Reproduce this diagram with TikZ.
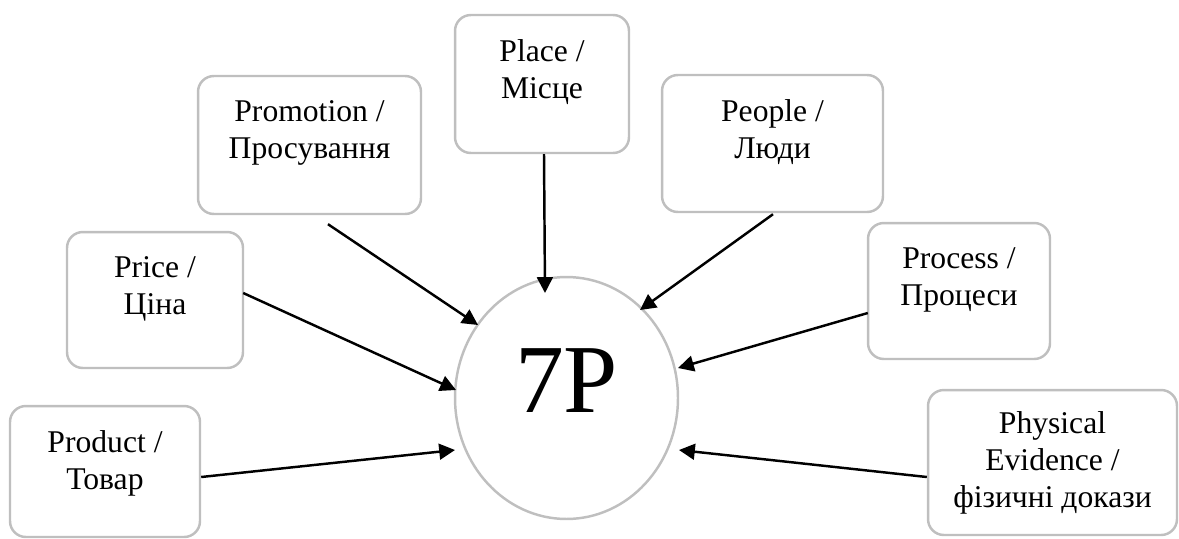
\documentclass[tikz,border=0pt]{standalone}
\usepackage{fontspec}
\setmainfont{Liberation Serif}
\newfontfamily\boxfont{Liberation Serif}
\usetikzlibrary{shapes.geometric,arrows.meta}
\definecolor{boxgray}{HTML}{BFBFBF}
\tikzset{
  box/.style={draw=boxgray, line width=1.4pt, rounded corners=9pt, inner sep=0pt, fill=white},
  lbl/.style={align=center, inner sep=0pt, font=\boxfont\fontsize{18}{21}\selectfont, anchor=north},
  hub/.style={ellipse, draw=boxgray, line width=1.4pt, inner sep=0pt, minimum width=4.46cm, minimum height=4.84cm},
  arr/.style={line width=1.4pt, -{Triangle[length=9pt,width=9pt]}}
}
\begin{document}
\begin{tikzpicture}[x=0.02cm, y=-0.02cm]
\useasboundingbox (0,0) rectangle (1179,538);
% hub
\node[hub] (hub) at (566.5,398) {};
\node[inner sep=0pt, anchor=base, font=\boxfont\fontsize{55.5}{60}\selectfont] (hubT) at (566.5,412) {7P};
% boxes
\node[box, minimum width=3.80cm, minimum height=2.62cm] (product) at (105,471.5) {};
\node[box, minimum width=3.52cm, minimum height=2.72cm] (price) at (155,300) {};
\node[box, minimum width=4.46cm, minimum height=2.76cm] (promotion) at (309.5,145) {};
\node[box, minimum width=3.48cm, minimum height=2.76cm] (place) at (542,84) {};
\node[box, minimum width=4.42cm, minimum height=2.74cm] (people) at (772.5,143.5) {};
\node[box, minimum width=3.64cm, minimum height=2.72cm] (process) at (959,291) {};
\node[box, minimum width=4.98cm, minimum height=2.90cm] (physical) at (1052.5,462.5) {};
% texts
\node[lbl] (productT) at ([yshift=-14.5pt]product.north) {Product /\\Товар};
\node[lbl] (priceT) at ([yshift=-14.5pt]price.north) {Price /\\Ціна};
\node[lbl] (promotionT) at ([yshift=-14.5pt]promotion.north) {Promotion /\\Просування};
\node[lbl] (placeT) at ([yshift=-14.5pt]place.north) {Place /\\Місце};
\node[lbl] (peopleT) at ([yshift=-14.5pt]people.north) {People /\\Люди};
\node[lbl] (processT) at ([yshift=-14.5pt]process.north) {Process /\\Процеси};
\node[lbl] (physicalT) at ([yshift=-13pt]physical.north) {Physical\\Evidence /\\фізичні докази};
% tips near hub
\coordinate (tPlace) at ([shift={(-21.5,-105)}]hub.center);
\coordinate (tPeople) at ([shift={(73.5,-88)}]hub.center);
\coordinate (tPromotion) at ([shift={(-88.5,-73)}]hub.center);
\coordinate (tPrice) at ([shift={(-110.5,-8)}]hub.center);
\coordinate (tProcess) at ([shift={(111.5,-30)}]hub.center);
\coordinate (tProduct) at ([shift={(-111.5,52)}]hub.center);
\coordinate (tPhysical) at ([shift={(112.5,52)}]hub.center);
% arrows
\draw[arr] ([shift={(2,0)}]place.south) -- (tPlace);
\draw[arr] ([shift={(0.5,1)}]people.south) -- (tPeople);
\draw[arr] ([shift={(18.5,9)}]promotion.south) -- (tPromotion);
\draw[arr] ([shift={(-1,-7)}]price.east) -- (tPrice);
\draw[arr] ([shift={(1,22)}]process.west) -- (tProcess);
\draw[arr] ([shift={(0,5.5)}]product.east) -- (tProduct);
\draw[arr] ([shift={(0,14.5)}]physical.west) -- (tPhysical);
\end{tikzpicture}
\end{document}
